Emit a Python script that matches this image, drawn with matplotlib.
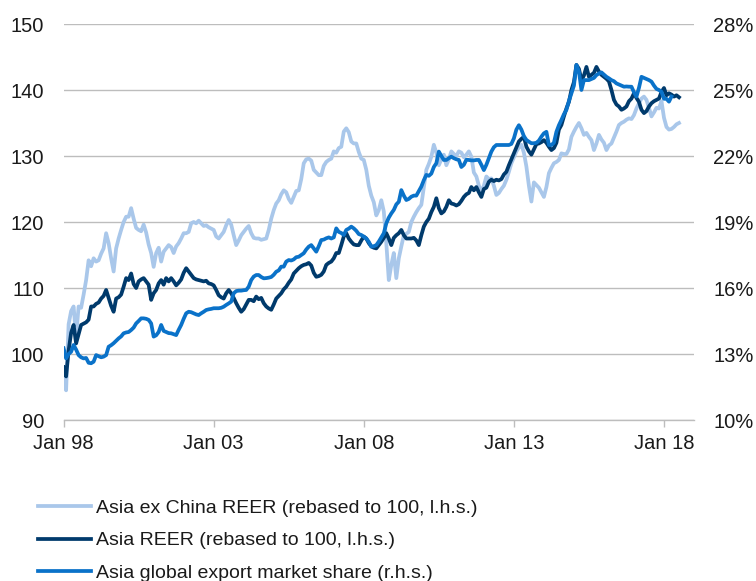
import numpy as np
import matplotlib
matplotlib.use("Agg")
import matplotlib.pyplot as plt

plt.rcParams['font.family'] = ['Liberation Sans', 'DejaVu Sans']

# monthly values, Jan 1998 onwards (one row per year)
ex_china_reer = [
    97.0, 94.5, 104.5, 106.5, 107.2, 102.6, 107.2, 107.0, 109.0, 111.2, 114.2, 113.3,
    114.5, 114.0, 114.2, 115.2, 116.0, 118.3, 116.8, 114.5, 112.5, 116.0, 117.5, 118.8,
    120.0, 120.8, 120.8, 122.1, 120.5, 119.1, 118.8, 118.6, 119.6, 118.4, 116.6, 115.3,
    113.2, 115.3, 116.1, 114.0, 115.5, 116.0, 116.5, 116.2, 115.3, 116.3, 116.8, 117.5,
    118.3, 118.3, 118.5, 119.8, 120.0, 119.8, 120.2, 119.8, 119.4, 119.5, 119.2, 119.0,
    118.8, 117.8, 117.5, 118.0, 118.5, 119.5, 120.3, 119.6, 118.0, 116.5, 117.2, 118.0,
    118.5, 119.0, 119.4, 118.3, 117.6, 117.5, 117.5, 117.3, 117.4, 117.5, 118.8, 120.5,
    121.8, 122.8, 123.3, 124.2, 124.8, 124.5, 123.5, 122.9, 123.8, 124.7, 124.8, 126.5,
    128.9, 129.5, 129.6, 129.3, 127.9, 127.5, 127.1, 127.1, 128.5, 129.1, 129.4, 129.6,
    130.7, 130.5, 131.2, 131.4, 133.7, 134.2, 133.6, 132.2, 131.9, 131.9, 130.6, 129.6,
    129.4, 127.9, 125.5, 124.0, 123.0, 121.0, 121.8, 123.3, 121.6, 116.8, 111.2, 113.5,
    115.3, 111.5, 114.5, 116.3, 118.0, 118.2, 118.5, 120.0, 120.8, 121.5, 122.1, 122.6,
    125.3, 127.9, 128.8, 129.9, 131.7, 130.5, 128.6, 129.5, 130.2, 128.6, 129.5, 130.7,
    130.3, 130.0, 130.7, 130.5, 129.8, 130.2, 130.7, 129.9, 127.5, 126.9, 125.5, 124.6,
    125.5, 126.9, 126.5, 126.6, 125.5, 124.1, 124.4, 125.0, 125.5, 126.4, 127.6, 128.9,
    129.8, 130.7, 131.3, 131.7, 130.5, 128.4, 125.5, 123.1, 126.0, 125.6, 125.2, 124.5,
    123.8, 125.3, 127.4, 128.2, 128.9, 129.1, 129.4, 130.4, 130.3, 130.3, 131.0, 132.9,
    133.7, 134.4, 135.0, 134.2, 133.2, 133.5, 132.9, 132.4, 130.9, 131.9, 133.2, 132.5,
    132.0, 130.9, 131.6, 131.9, 132.8, 133.7, 134.7, 135.0, 135.2, 135.5, 135.7, 135.6,
    136.2, 137.2, 138.0, 138.7, 139.0, 138.5, 137.3, 136.0, 136.6, 137.3, 137.2, 138.3,
    135.8, 134.4, 134.0, 134.1, 134.4, 134.8, 135.0,
]

asia_reer = [
    98.0, 96.6, 100.5, 103.2, 104.4, 101.6, 103.0, 104.4, 104.6, 104.8, 105.2, 107.2,
    107.2, 107.6, 107.8, 108.4, 108.8, 109.7, 108.5, 107.3, 106.4, 108.4, 108.6, 109.0,
    110.2, 111.5, 111.2, 112.2, 110.6, 110.0, 111.0, 111.3, 111.5, 111.0, 110.5, 108.2,
    109.2, 109.7, 110.7, 111.2, 110.5, 111.5, 111.0, 111.5, 111.0, 110.4, 110.8, 111.3,
    112.3, 113.0, 112.5, 112.0, 111.5, 111.3, 111.2, 111.1, 111.0, 111.1, 110.7, 110.6,
    110.4, 109.7, 108.9, 108.6, 108.4, 109.2, 109.7, 109.2, 108.5, 107.7, 107.0, 106.4,
    106.8, 107.5, 108.2, 108.2, 108.0, 108.7, 108.3, 108.5, 107.7, 107.2, 106.9, 106.7,
    107.5, 108.4, 108.8, 109.2, 109.8, 110.2, 110.8, 111.3, 112.2, 112.6, 113.0, 113.3,
    113.5, 113.6, 113.8, 113.4, 112.3, 111.7, 111.8, 112.0, 112.5, 113.5, 113.8, 114.0,
    114.5, 115.3, 115.3, 116.5, 117.8, 118.3, 117.5, 117.0, 116.6, 116.5, 116.5, 117.2,
    117.8, 117.5, 116.8, 116.3, 116.1, 116.0, 116.5, 117.0, 117.6, 118.3, 117.5, 116.5,
    117.6, 118.0, 118.3, 118.8, 118.0, 117.5, 117.5, 117.5, 117.6, 117.2, 116.5, 118.0,
    119.3, 120.0, 120.5, 121.5, 122.3, 123.6, 122.1, 121.3, 121.6, 122.3, 123.3, 122.8,
    122.7, 122.5, 122.7, 123.2, 123.8, 124.2, 124.4, 125.3, 124.8, 125.3, 124.5, 123.8,
    125.0, 125.2, 126.1, 126.4, 126.2, 126.4, 126.3, 126.5, 127.2, 127.6, 128.6, 129.5,
    130.4, 131.3, 132.2, 132.6, 132.9, 131.4, 130.7, 130.2, 131.0, 131.8, 131.9, 132.1,
    132.4, 132.0, 131.4, 130.9, 131.2, 132.0, 134.0, 134.7, 136.0, 137.2, 138.2, 140.0,
    141.2, 143.8, 143.2, 141.5, 142.2, 143.5, 142.0, 142.3, 142.6, 143.5, 142.8, 142.3,
    142.0, 141.7, 141.3, 140.0, 138.5, 137.8, 137.5, 137.0, 137.2, 137.5, 138.3, 138.7,
    139.5, 138.8, 138.2, 137.0, 136.5, 136.8, 137.5, 138.0, 138.3, 138.5, 138.7, 139.7,
    140.3, 139.2, 139.5, 139.3, 139.0, 139.2, 138.9,
]

# export market share, %
export_share = [
    13.26, 12.8, 13.0, 13.1, 13.41, 13.2, 12.95, 12.85, 12.8, 12.82, 12.6, 12.58,
    12.65, 12.95, 12.9, 12.85, 12.88, 12.95, 13.33, 13.4, 13.49, 13.6, 13.71, 13.8,
    13.94, 13.98, 14.0, 14.09, 14.2, 14.39, 14.5, 14.62, 14.62, 14.6, 14.55, 14.39,
    13.79, 13.85, 14.0, 14.32, 14.05, 14.0, 13.95, 13.94, 13.9, 13.86, 14.1, 14.32,
    14.6, 14.85, 14.92, 14.9, 14.85, 14.8, 14.77, 14.85, 14.92, 15.0, 15.03, 15.05,
    15.08, 15.08, 15.08, 15.1, 15.15, 15.23, 15.3, 15.38, 15.76, 15.86, 15.88, 15.88,
    15.9, 15.91, 16.06, 16.36, 16.52, 16.59, 16.59, 16.5, 16.44, 16.45, 16.47, 16.5,
    16.6, 16.74, 16.8, 16.97, 16.97, 17.2, 17.27, 17.25, 17.3, 17.4, 17.42, 17.5,
    17.58, 17.75, 17.88, 17.95, 17.8, 17.65, 17.9, 18.18, 18.2, 18.26, 18.3, 18.25,
    18.3, 18.71, 18.55, 18.5, 18.41, 18.64, 18.7, 18.79, 18.71, 18.6, 18.45, 18.41,
    18.33, 18.25, 18.1, 17.88, 17.9, 17.95, 18.11, 18.3, 18.49, 18.94, 19.2, 19.39,
    19.55, 19.8, 19.92, 20.45, 20.2, 20.0, 20.05, 20.15, 20.2, 20.2, 20.4, 20.61,
    20.9, 21.14, 21.1, 21.2, 21.5, 21.67, 22.2, 22.0, 21.82, 21.82, 21.9, 21.97,
    21.9, 21.85, 21.82, 21.5, 21.6, 21.83, 21.82, 21.8, 21.8, 21.82, 21.82, 21.6,
    21.36, 21.6, 21.9, 22.2, 22.4, 22.5, 22.5, 22.5, 22.5, 22.5, 22.5, 22.55,
    22.8, 23.2, 23.4, 23.2, 22.9, 22.73, 22.65, 22.58, 22.58, 22.6, 22.7, 22.88,
    23.03, 23.1, 22.5, 22.5, 22.6, 23.1, 23.4, 23.64, 23.9, 24.1, 24.5, 24.85,
    25.2, 26.14, 25.85, 25.0, 25.45, 25.45, 25.45, 25.5, 25.55, 25.68, 25.75, 25.8,
    25.7, 25.6, 25.53, 25.45, 25.4, 25.3, 25.25, 25.2, 25.15, 25.16, 25.15, 25.15,
    24.9, 24.7, 25.1, 25.6, 25.55, 25.5, 25.45, 25.38, 25.2, 25.05, 25.0, 24.92,
    24.6, 24.6, 24.47, 24.7,
]

x_ticks = [0, 60, 120, 180, 240]
x_labels = ["Jan 98", "Jan 03", "Jan 08", "Jan 13", "Jan 18"]
left_ticks = [90, 100, 110, 120, 130, 140, 150]
right_ticks = [10, 13, 16, 19, 22, 25, 28]

labels = ["Asia ex China REER (rebased to 100, l.h.s.)",
          "Asia REER (rebased to 100, l.h.s.)",
          "Asia global export market share (r.h.s.)"]
colors = ["#a9c7ea", "#003a6c", "#0a72c9"]

TEXT = "#1a1a1a"
GRID = "#bdbdbd"
W, H = 756, 581


def main():
    fig = plt.figure(figsize=(W / 100, H / 100), dpi=100)
    ax = fig.add_axes([63.6 / W, 1 - 420 / H, (694 - 63.6) / W, (420 - 24) / H])
    ax2 = ax.twinx()

    l1, = ax.plot(np.arange(len(ex_china_reer)), ex_china_reer, color=colors[0], lw=2.7, zorder=2)
    l2, = ax.plot(np.arange(len(asia_reer)), asia_reer, color=colors[1], lw=2.7, zorder=3)
    l3, = ax2.plot(np.arange(len(export_share)), export_share, color=colors[2], lw=2.7)

    ax.set_xlim(0, 252)
    ax.set_ylim(90, 150)
    ax2.set_ylim(10, 28)

    ax.set_yticks(left_ticks)
    ax.set_yticklabels([str(t) for t in left_ticks])
    ax2.set_yticks(right_ticks)
    ax2.set_yticklabels([f"{t}%" for t in right_ticks])
    ax.set_xticks(x_ticks)
    ax.set_xticklabels(x_labels)

    ax.grid(axis='y', color=GRID, lw=1.0)
    ax.set_axisbelow(True)

    for s in ['top', 'right', 'left']:
        ax.spines[s].set_visible(False)
    ax.spines['bottom'].set_color(GRID)
    ax.spines['bottom'].set_linewidth(1.0)
    for s in ax2.spines.values():
        s.set_visible(False)

    ax.tick_params(axis='y', length=0, pad=14, labelsize=14.5, labelcolor=TEXT)
    ax2.tick_params(axis='y', length=0, pad=14, labelsize=14.5, labelcolor=TEXT)
    ax.tick_params(axis='x', length=5, width=1.0, color=GRID, pad=5, labelsize=14.5, labelcolor=TEXT)

    fig.legend([l1, l2, l3], labels, loc='upper left', bbox_to_anchor=(38 / W, 1 - 499 / H),
               frameon=False, fontsize=14, handlelength=2.7, handletextpad=0.3,
               labelspacing=0.78, borderpad=0, borderaxespad=0, labelcolor=TEXT)

    fig.savefig("out.png", dpi=100)


if __name__ == '__main__':
    main()
